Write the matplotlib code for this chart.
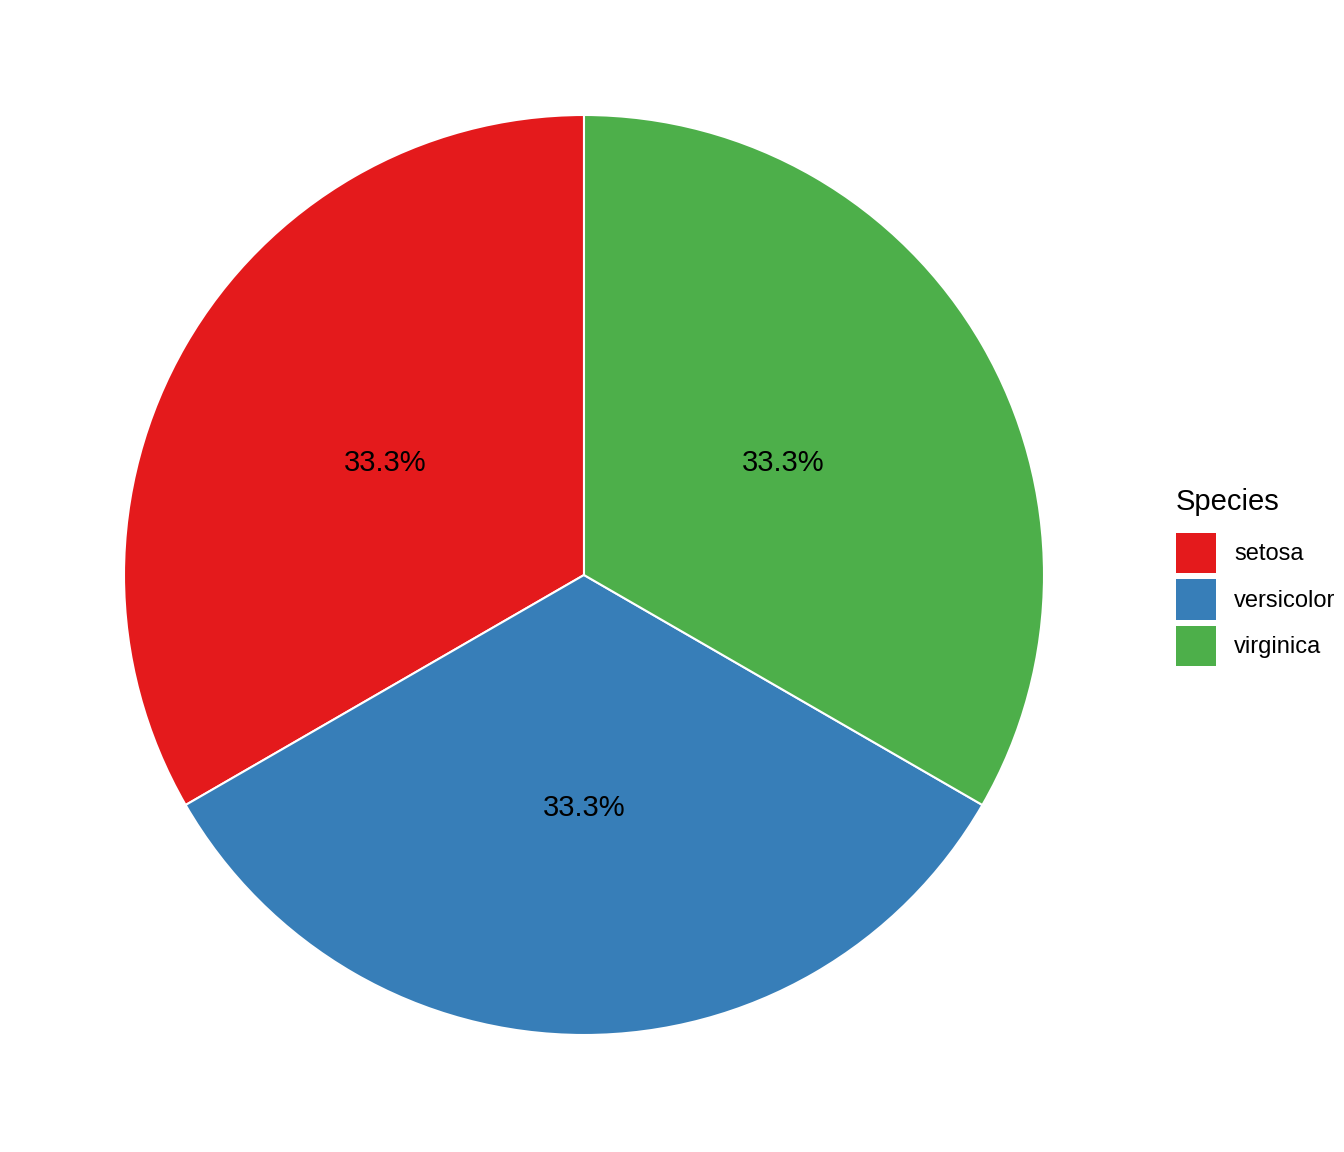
import matplotlib
matplotlib.use("Agg")
import matplotlib.pyplot as plt
from matplotlib.patches import Patch

species = ["setosa", "versicolor", "virginica"]
counts = [50, 50, 50]
colors = ["#E41A1C", "#377EB8", "#4DAF4A"]

plt.rcParams['font.family'] = ['Liberation Sans', 'DejaVu Sans']

W, H = 1344, 1152
fig = plt.figure(figsize=(W / 100, H / 100), dpi=100)
cx, cy, r = 584, 575, 460
ax = fig.add_axes([(cx - r) / W, (H - cy - r) / H, 2 * r / W, 2 * r / H])
wedges, texts, autotexts = ax.pie(
    counts, colors=colors, startangle=90, counterclock=True,
    autopct="%1.1f%%", pctdistance=0.5,
    wedgeprops=dict(edgecolor="white", linewidth=1.5),
    textprops=dict(fontsize=21, color="black"))
for t in autotexts:
    t.set_va("center_baseline")
ax.set_xlim(-1, 1)
ax.set_ylim(-1, 1)
ax.set_aspect("equal")
ax.axis("off")

handles = [Patch(facecolor=c, edgecolor="none") for c in colors]
leg = fig.legend(handles, species, title="Species",
                 loc="upper left", bbox_to_anchor=(1176 / W, 1 - 488 / H),
                 frameon=False, fontsize=17, title_fontsize=21,
                 handlelength=1.7, handleheight=2.27, labelspacing=0.25,
                 handletextpad=0.76, borderaxespad=0, borderpad=0)
leg._legend_box.align = "left"
leg._legend_box.sep = 12

fig.savefig("out.png", dpi=100)
